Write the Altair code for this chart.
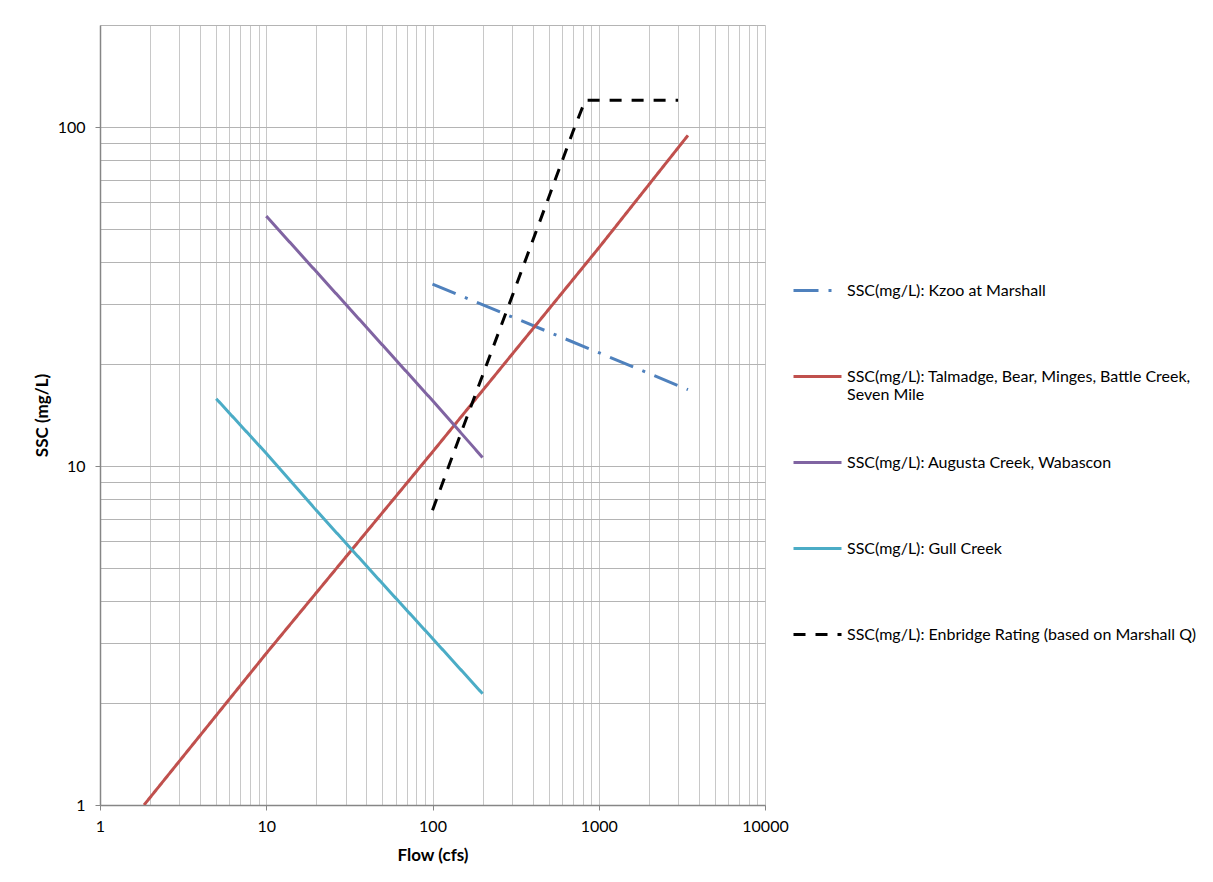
import altair as alt
import pandas as pd

series_names = [
    "SSC(mg/L): Kzoo at Marshall",
    "SSC(mg/L): Talmadge, Bear, Minges, Battle Creek, Seven Mile",
    "SSC(mg/L): Augusta Creek, Wabascon",
    "SSC(mg/L): Gull Creek",
    "SSC(mg/L): Enbridge Rating (based on Marshall Q)",
]
series_colors = ["#4F81BD", "#C0504D", "#8064A2", "#4BACC6", "#000000"]
series_dashes = [[25, 10, 3, 10], [1, 0], [1, 0], [1, 0], [12, 10]]

kzoo_flow = [100, 1000, 3440]
kzoo_ssc = [34.4, 21.6, 16.8]
talm_flow = [1.84, 10, 100, 1000, 3440]
talm_ssc = [1.0, 2.8, 11.0, 44.0, 94.5]
aug_flow = [10, 100, 200]
aug_ssc = [54.6, 15.6, 10.6]
gull_flow = [5, 10, 20, 50, 100, 200]
gull_ssc = [15.8, 10.9, 7.4, 4.5, 3.1, 2.13]
enb_flow = [100, 150, 200, 300, 500, 700, 830, 3000]
enb_ssc = [7.4, 12.7, 18.5, 31.5, 62, 97, 120, 120]

x_ticks = [1, 2, 3, 4, 5, 6, 7, 8, 9, 10, 20, 30, 40, 50, 60, 70, 80, 90,
           100, 200, 300, 400, 500, 600, 700, 800, 900,
           1000, 2000, 3000, 4000, 5000, 6000, 7000, 8000, 9000, 10000]
y_ticks = [1, 2, 3, 4, 5, 6, 7, 8, 9, 10, 20, 30, 40, 50, 60, 70, 80, 90, 100, 200]

rows = []
for name, fl, ss in zip(series_names,
                        [kzoo_flow, talm_flow, aug_flow, gull_flow, enb_flow],
                        [kzoo_ssc, talm_ssc, aug_ssc, gull_ssc, enb_ssc]):
    for i, (f, s) in enumerate(zip(fl, ss)):
        rows.append({"series": name, "flow": f, "ssc": s, "i": i})
df = pd.DataFrame(rows)

major = "abs(log(datum.value)/LN10 - round(log(datum.value)/LN10)) < 0.001"
FONT = "Lato"

label_expr = (
    "datum.label == 'SSC(mg/L): Talmadge, Bear, Minges, Battle Creek, Seven Mile'"
    " ? ['SSC(mg/L): Talmadge, Bear, Minges, Battle Creek,', 'Seven Mile']"
    " : [datum.label, '']"
)

chart = alt.Chart(df).mark_line(strokeWidth=3, clip=True).encode(
    x=alt.X("flow:Q", title="Flow (cfs)",
            scale=alt.Scale(type="log", domain=[1, 10000], nice=False),
            axis=alt.Axis(values=x_ticks, format="d", labelFlush=False,
                          labelOverlap=False, labelBound=False,
                          labelExpr=f"({major}) ? datum.label : ''",
                          tickOpacity={"condition": {"test": major, "value": 1}, "value": 0},
                          gridColor="#C8C8C8", titleY=50, titleBaseline="middle")),
    y=alt.Y("ssc:Q", title="SSC (mg/L)",
            scale=alt.Scale(type="log", domain=[1, 200], nice=False),
            axis=alt.Axis(values=y_ticks, format="d", labelOverlap=False,
                          labelBound=False, labelPadding=10,
                          labelExpr=f"({major}) ? datum.label : ''",
                          tickOpacity={"condition": {"test": major, "value": 1}, "value": 0},
                          gridColor="#B4B4B4", titleX=-58, titleY=390,
                          titleAngle=270, titleBaseline="middle")),
    color=alt.Color("series:N", sort=series_names,
                    scale=alt.Scale(domain=series_names, range=series_colors),
                    legend=alt.Legend(title=None, labelExpr=label_expr)),
    strokeDash=alt.StrokeDash("series:N", sort=series_names,
                              scale=alt.Scale(domain=series_names, range=series_dashes),
                              legend=alt.Legend(title=None, labelExpr=label_expr)),
    order="i:Q",
).properties(
    width=665, height=780,
    autosize=alt.AutoSizeParams(type="none"),
    padding={"left": 92, "top": 17, "right": 440, "bottom": 69},
).configure_view(
    strokeWidth=0
).configure_axis(
    labelFont=FONT, labelFontSize=16, labelColor="#000000",
    titleFont=FONT, titleFontSize=17, titleFontWeight="bold", titleColor="#000000",
    domainColor="#868686", domainWidth=1.5, tickColor="#868686", tickSize=5,
    gridWidth=1, grid=True,
).configure_axisX(
    labelPadding=8,
).configure_legend(
    orient="none", legendX=692, legendY=240, padding=0, offset=0,
    rowPadding=34, symbolType="stroke", symbolSize=2304, symbolStrokeWidth=3,
    labelFont=FONT, labelFontSize=16, labelColor="#000000", labelLimit=600,
    labelOffset=4, labelBaseline="middle",
)

chart.save("out.html", embed_options={"renderer": "svg", "actions": False})
